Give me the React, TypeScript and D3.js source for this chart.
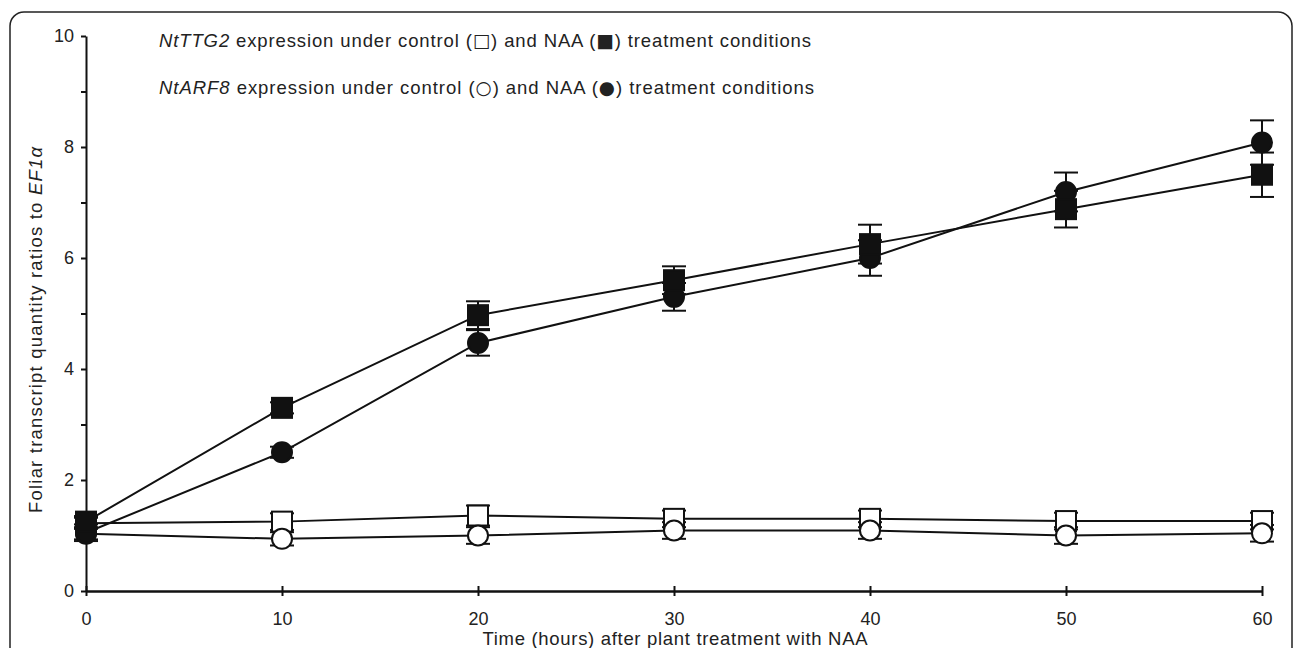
import React, { useEffect, useRef } from 'react';
import * as d3 from 'd3';

// time points (hours after NAA treatment)
const hours = [0, 10, 20, 30, 40, 50, 60];

// NtTTG2 - control (open squares) and NAA (filled squares)
const ttg2Control = [1.22, 1.25, 1.36, 1.3, 1.3, 1.26, 1.26];
const ttg2ControlErr = [0.1, 0.15, 0.18, 0.15, 0.15, 0.15, 0.15];
const ttg2Naa = [1.25, 3.3, 4.97, 5.6, 6.25, 6.88, 7.5];
const ttg2NaaErr = [0.1, 0.1, 0.25, 0.25, 0.35, 0.33, 0.4];

// NtARF8 - control (open circles) and NAA (filled circles)
const arf8Control = [1.03, 0.94, 1.0, 1.09, 1.09, 1.0, 1.04];
const arf8ControlErr = [0.1, 0.12, 0.15, 0.15, 0.15, 0.15, 0.15];
const arf8Naa = [1.05, 2.5, 4.47, 5.3, 6.0, 7.19, 8.08];
const arf8NaaErr = [0.15, 0.1, 0.23, 0.25, 0.32, 0.35, 0.4];

const yTicks = [0, 1, 2, 3, 4, 5, 6, 7, 8, 9, 10];
const xTicks = [0, 10, 20, 30, 40, 50, 60];

const App = () => {
  const svgRef = useRef<SVGSVGElement>(null);

  useEffect(() => {
    const w = 1296;
    const h = 648;
    const font = '"Liberation Sans", Arial, sans-serif';
    const ink = '#111';

    const svg = d3.select(svgRef.current).attr('width', w).attr('height', h);
    svg.selectAll('*').remove();

    // rounded frame
    svg.append('rect')
      .attr('x', 10).attr('y', 12)
      .attr('width', 1282).attr('height', 700)
      .attr('rx', 14)
      .attr('fill', 'white')
      .attr('stroke', '#222')
      .attr('stroke-width', 1.5);

    const xScale = d3.scaleLinear().domain([0, 60]).range([86, 1262]);
    const yScale = d3.scaleLinear().domain([0, 10]).range([591, 36]);

    // y axis
    const yAxis = d3.axisLeft(yScale)
      .tickValues(yTicks)
      .tickSize(5)
      .tickSizeOuter(0)
      .tickPadding(7)
      .tickFormat((d) => (+d % 2 === 0 ? String(d) : ''));
    const gy = svg.append('g').attr('transform', `translate(${xScale(0)},0)`).call(yAxis);
    gy.select('.domain').attr('stroke', ink).attr('stroke-width', 2);
    gy.selectAll('line').attr('stroke', ink).attr('stroke-width', 2);
    gy.selectAll('text').attr('font-family', font).attr('font-size', 18).attr('fill', '#222');

    // x axis, ticks cross the line
    const xAxis = d3.axisBottom(xScale)
      .tickValues(xTicks)
      .tickSizeOuter(0)
      .tickPadding(15);
    const gx = svg.append('g').attr('transform', `translate(0,${yScale(0)})`).call(xAxis);
    gx.select('.domain').attr('stroke', ink).attr('stroke-width', 2.5);
    gx.selectAll('.tick line').attr('y1', -5).attr('y2', 5).attr('stroke', ink).attr('stroke-width', 2);
    gx.selectAll('text').attr('font-family', font).attr('font-size', 18).attr('fill', '#222');

    // axis titles
    svg.append('text')
      .attr('x', 675).attr('y', 645)
      .attr('text-anchor', 'middle')
      .attr('font-family', font).attr('font-size', 18.5).attr('fill', '#222')
      .attr('textLength', 385).attr('lengthAdjust', 'spacing')
      .text('Time (hours) after plant treatment with NAA');

    const yl = svg.append('text')
      .attr('transform', 'translate(42,330) rotate(-90)')
      .attr('text-anchor', 'middle')
      .attr('font-family', font).attr('font-size', 18.5).attr('fill', '#222')
      .attr('textLength', 366).attr('lengthAdjust', 'spacing');
    yl.append('tspan').text('Foliar transcript quantity ratios to ');
    yl.append('tspan').attr('font-style', 'italic').text('EF1α');

    // legend lines
    const legend = [
      { gene: 'NtTTG2', open: '□', filled: '■', y: 46.5, len: 652 },
      { gene: 'NtARF8', open: '○', filled: '●', y: 93.5, len: 655 }
    ];
    legend.forEach((l) => {
      const t = svg.append('text')
        .attr('x', 159).attr('y', l.y)
        .attr('font-family', font).attr('font-size', 18.5).attr('fill', '#222')
        .attr('textLength', l.len).attr('lengthAdjust', 'spacing');
      t.append('tspan').attr('font-style', 'italic').text(l.gene);
      t.append('tspan').text(' expression under control (');
      t.append('tspan').attr('font-family', '"DejaVu Sans"').text(l.open);
      t.append('tspan').text(') and NAA (');
      t.append('tspan').attr('font-family', '"DejaVu Sans"').text(l.filled);
      t.append('tspan').text(') treatment conditions');
    });

    const series = [
      { values: ttg2Control, err: ttg2ControlErr, shape: 'square', fill: 'white' },
      { values: arf8Control, err: arf8ControlErr, shape: 'circle', fill: 'white' },
      { values: arf8Naa, err: arf8NaaErr, shape: 'circle', fill: ink },
      { values: ttg2Naa, err: ttg2NaaErr, shape: 'square', fill: ink }
    ];

    const line = d3.line<number>()
      .x((d, i) => xScale(hours[i]))
      .y((d) => yScale(d));

    // connecting lines
    series.forEach((s) => {
      svg.append('path')
        .datum(s.values)
        .attr('d', line)
        .attr('fill', 'none')
        .attr('stroke', ink)
        .attr('stroke-width', 2);
    });

    // error bars
    const cap = 12;
    series.forEach((s) => {
      const g = svg.append('g').attr('stroke', ink).attr('stroke-width', 2);
      s.values.forEach((v, i) => {
        const x = xScale(hours[i]);
        const y1 = yScale(v + s.err[i]);
        const y2 = yScale(v - s.err[i]);
        g.append('line').attr('x1', x).attr('x2', x).attr('y1', y1).attr('y2', y2);
        g.append('line').attr('x1', x - cap).attr('x2', x + cap).attr('y1', y1).attr('y2', y1);
        g.append('line').attr('x1', x - cap).attr('x2', x + cap).attr('y1', y2).attr('y2', y2);
      });
    });

    // markers
    series.forEach((s) => {
      const g = svg.append('g');
      if (s.shape === 'square') {
        g.selectAll('rect')
          .data(s.values)
          .enter()
          .append('rect')
          .attr('x', (d, i) => xScale(hours[i]) - 10)
          .attr('y', (d) => yScale(d) - 10)
          .attr('width', 20)
          .attr('height', 20)
          .attr('fill', s.fill)
          .attr('stroke', ink)
          .attr('stroke-width', 2);
      } else {
        g.selectAll('circle')
          .data(s.values)
          .enter()
          .append('circle')
          .attr('cx', (d, i) => xScale(hours[i]))
          .attr('cy', (d) => yScale(d))
          .attr('r', 10)
          .attr('fill', s.fill)
          .attr('stroke', ink)
          .attr('stroke-width', 2);
      }
    });
  }, []);

  return (
    <svg ref={svgRef} style={{ position: 'absolute', left: 0, top: 0 }}></svg>
  );
};

export default App;
